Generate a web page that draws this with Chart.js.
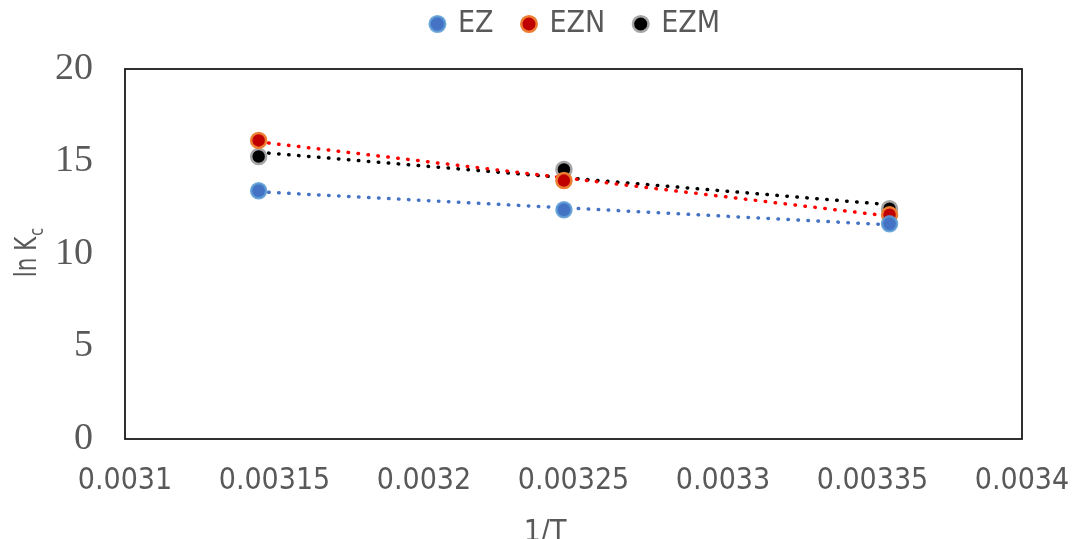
<!DOCTYPE html>
<html>
<head>
<meta charset="utf-8">
<script src="https://cdn.jsdelivr.net/npm/chart.js@4"></script>
<style>
  html, body { margin: 0; padding: 0; background: #fff; }
  #wrap { width: 1075px; height: 539px; }
</style>
</head>
<body>
<div id="wrap"><canvas id="chart"></canvas></div>
<script>
// Data
const invT = [0.0031447, 0.0032468, 0.0033557];
const ezValues = [13.42, 12.39, 11.63];
const eznValues = [16.14, 13.97, 12.12];
const ezmValues = [15.27, 14.57, 12.45];
const xTickLabels = ['0.0031', '0.00315', '0.0032', '0.00325', '0.0033', '0.00335', '0.0034'];
const yTickLabels = ['0', '5', '10', '15', '20'];
const xTitle = '1/T';

const textGrey = '#595959';
const sansFont = "'DejaVu Sans Condensed', 'DejaVu Sans', sans-serif";

// least-squares trendline over the same x values (as Excel draws it)
function trend(xs, ys) {
    const n = xs.length;
    const mx = xs.reduce((a, b) => a + b, 0) / n;
    const my = ys.reduce((a, b) => a + b, 0) / n;
    let sxy = 0, sxx = 0;
    for (let i = 0; i < n; i++) {
        sxy += (xs[i] - mx) * (ys[i] - my);
        sxx += (xs[i] - mx) * (xs[i] - mx);
    }
    const slope = sxy / sxx;
    return xs.map(x => ({ x: x, y: my + slope * (x - mx) }));
}

function pts(ys) {
    return invT.map((x, i) => ({ x: x, y: ys[i] }));
}

function series(label, ys, fill, border) {
    return {
        label: label,
        data: pts(ys),
        showLine: false,
        backgroundColor: fill,
        borderColor: border,
        borderWidth: 2.5,
        pointRadius: 7.5,
        pointHoverRadius: 7.5,
        order: 1,
    };
}

function trendLine(ys, color) {
    return {
        label: 'trend',
        data: trend(invT, ys),
        showLine: true,
        borderColor: color,
        borderWidth: 3.5,
        borderDash: [0.5, 9.5],
        borderCapStyle: 'round',
        pointRadius: 0,
        fill: false,
        order: 2,
    };
}

// legend spacing and position, frame round the plot area, axis titles
const layoutPlugin = {
    id: 'excelLook',
    beforeInit(chart) {
        const fit = chart.legend.fit;
        chart.legend.fit = function() {
            fit.bind(chart.legend)();
            this.height = 69;
        };
    },
    afterLayout(chart) {
        const lg = chart.legend;
        lg.left += 65;
        lg.right += 65;
        lg.top -= 21;
        lg.bottom -= 21;
    },
    afterDatasetsDraw(chart) {
        const { ctx, chartArea: a } = chart;
        ctx.save();
        ctx.strokeStyle = '#1a1a1a';
        ctx.lineWidth = 1.8;
        ctx.strokeRect(a.left, a.top, a.right - a.left, a.bottom - a.top);
        ctx.restore();
    },
    afterDraw(chart) {
        const ctx = chart.ctx;
        // x title
        ctx.save();
        ctx.fillStyle = textGrey;
        ctx.font = '30px ' + sansFont;
        ctx.textAlign = 'center';
        ctx.textBaseline = 'alphabetic';
        ctx.fillText(xTitle, 545, 541);
        ctx.restore();
        // y title: ln K with subscript c
        ctx.save();
        ctx.translate(36, 253);
        ctx.rotate(-Math.PI / 2);
        ctx.scale(0.8, 1);
        ctx.fillStyle = textGrey;
        ctx.textBaseline = 'alphabetic';
        ctx.textAlign = 'left';
        ctx.font = '30px ' + sansFont;
        const main = 'ln K';
        const mw = ctx.measureText(main).width;
        ctx.font = '20px ' + sansFont;
        const sw = ctx.measureText('c').width;
        const start = -(mw + sw) / 2;
        ctx.font = '30px ' + sansFont;
        ctx.fillText(main, start, 0);
        ctx.font = '20px ' + sansFont;
        ctx.fillText('c', start + mw + 1, 7);
        ctx.restore();
    },
};

new Chart(document.getElementById('chart'), {
    type: 'scatter',
    data: {
        datasets: [
            series('EZ', ezValues, '#4472C4', 'rgba(91, 155, 213, 0.85)'),
            series('EZN', eznValues, '#C00000', '#ED7D31'),
            series('EZM', ezmValues, '#000000', '#A5A5A5'),
            trendLine(ezValues, '#4472C4'),
            trendLine(eznValues, '#FF0000'),
            trendLine(ezmValues, '#000000'),
        ],
    },
    options: {
        responsive: true,
        maintainAspectRatio: false,
        animation: false,
        layout: { padding: { left: 0, right: 53, top: 0, bottom: 0 } },
        plugins: {
            legend: {
                display: true,
                position: 'top',
                labels: {
                    filter: item => item.text !== 'trend',
                    usePointStyle: true,
                    pointStyle: 'circle',
                    boxWidth: 11,
                    boxHeight: 11,
                    padding: 30,
                    color: textGrey,
                    font: { family: sansFont, size: 30 },
                },
            },
            tooltip: { enabled: false },
        },
        scales: {
            x: {
                type: 'linear',
                min: 0.0031,
                max: 0.0034,
                afterBuildTicks: scale => {
                    scale.ticks = xTickLabels.map(t => ({ value: parseFloat(t) }));
                },
                afterFit: scale => {
                    scale.height = 100;
                    scale.paddingRight = 0;
                    scale.paddingLeft = 0;
                },
                grid: { display: false, drawTicks: false },
                border: { display: false },
                ticks: {
                    padding: 24,
                    maxRotation: 0,
                    autoSkip: false,
                    color: textGrey,
                    font: { family: sansFont, size: 30 },
                    callback: (v, i) => xTickLabels[i],
                },
                title: { display: false },
            },
            y: {
                min: 0,
                max: 20,
                afterBuildTicks: scale => {
                    scale.ticks = yTickLabels.map(t => ({ value: parseFloat(t) }));
                },
                afterFit: scale => { scale.width = 125; },
                grid: { display: false, drawTicks: false },
                border: { display: false },
                ticks: {
                    padding: 32,
                    color: textGrey,
                    font: { family: "'Liberation Serif', serif", size: 38 },
                    callback: (v, i) => yTickLabels[i],
                },
            },
        },
    },
    plugins: [layoutPlugin],
});
</script>
</body>
</html>
